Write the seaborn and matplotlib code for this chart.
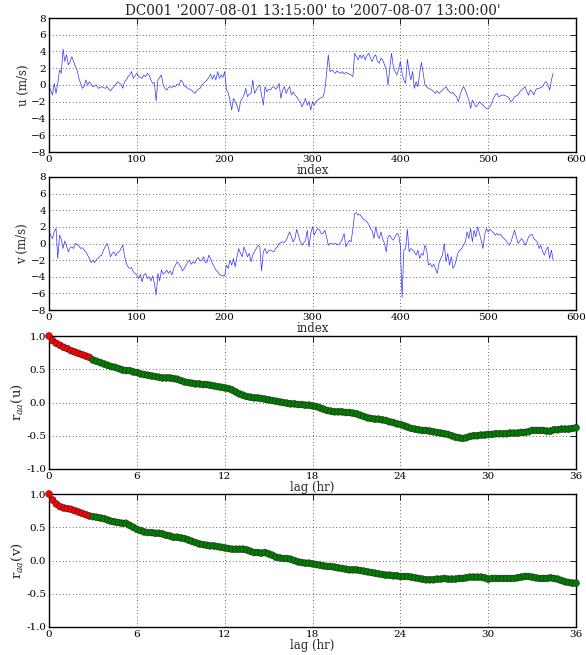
import numpy as np
import pandas as pd
import matplotlib
matplotlib.use("Agg")
import matplotlib.pyplot as plt
import seaborn as sns

title = "DC001 '2007-08-01 13:15:00' to '2007-08-07 13:00:00'"

# u (m/s) sampled every 2nd index (0..574)
u_vals = [
    -0.2, -0.6, -1.2, 0.2, -1.0, 0.2, 1.8, 1.4, 4.3, 2.8,
    3.6, 2.4, 2.8, 3.4, 2.8, 2.2, 1.8, 0.8, 0.2, -0.4,
    -0.2, 0.6, 0.0, 0.4, 0.1, -0.2, -0.1, 0.0, -0.4, -0.3,
    -0.2, -0.3, -0.4, -0.2, -0.5, -0.7, -0.4, -0.2, 0.1, 0.4,
    0.2, 0.1, -0.4, 0.4, 0.6, 1.0, 1.2, 1.6, 0.8, 1.1,
    1.4, 1.0, 0.9, 0.8, 1.2, 1.0, 1.4, 1.2, 0.6, 0.2,
    0.3, -1.9, 0.6, 0.9, 1.2, 0.0, -0.4, -0.6, -0.3, -0.2,
    -0.3, -0.1, -0.2, 0.1, 0.0, 0.6, 0.4, -0.1, -0.2, -0.4,
    -0.5, -0.6, -0.8, -1.0, -0.7, -0.5, -0.4, 0.0, 0.2, 0.4,
    0.6, 0.9, 1.3, 0.7, 1.2, 0.6, 1.6, 0.8, 1.2, 0.9,
    1.6, -0.6, -0.9, -1.8, -3.0, -1.6, -2.0, -2.4, -3.2, -2.0,
    -1.6, -1.2, -0.4, -1.4, -1.1, -1.0, 0.6, -1.0, -0.6, -0.2,
    0.0, -1.2, -2.4, -0.2, -0.8, -0.5, -0.6, -0.3, -0.2, -0.5,
    -0.3, 0.2, -1.6, -0.6, -0.2, -1.0, -0.5, -0.2, -1.2, -0.8,
    -1.2, -1.4, -1.8, -2.0, -2.6, -2.2, -1.6, -2.4, -2.0, -3.0,
    -2.0, -2.4, -2.0, -1.8, -1.6, -1.5, -1.4, -0.6, 1.4, 3.6,
    1.6, 1.8, 1.6, 1.4, 1.7, 1.5, 1.4, 1.6, 1.3, 1.5,
    1.4, 1.3, 1.2, 1.0, 3.8, 3.4, 3.0, 3.6, 3.2, 3.6,
    3.0, 3.5, 3.8, 3.2, 2.8, 3.4, 3.6, 2.8, 2.6, 3.2,
    3.0, 2.4, 1.8, 0.0, 2.0, 3.8, 2.2, 1.6, 1.2, 1.8,
    2.8, 1.4, 0.6, 0.2, 3.1, 1.6, 0.6, 1.6, -0.4, 0.4,
    -0.2, 1.4, 2.7, 1.4, 0.0, -0.2, -0.4, -0.5, -0.6, -0.8,
    -1.0, -0.7, -1.0, -0.8, -0.6, -0.4, -0.2, -0.6, -0.8, -1.0,
    -0.9, -1.2, -1.4, -2.0, -1.2, -0.6, -0.2, -0.6, -1.2, -1.8,
    -2.8, -1.8, -2.2, -2.6, -2.4, -2.0, -2.2, -2.4, -2.6, -2.8,
    -2.8, -2.6, -2.2, -1.6, -1.2, -1.0, -1.4, -1.3, -1.2, -1.2,
    -1.3, -1.4, -1.6, -2.0, -1.8, -1.4, -1.3, -1.2, -0.8, -0.6,
    -0.4, -0.2, -0.8, -1.2, -0.6, -0.8, -1.2, -0.6, -0.4, -0.4,
    -0.3, -0.2, 0.2, 0.4, 0.0, -0.6, 0.6, 1.4,
]

# v (m/s) sampled every 2nd index (0..574)
v_vals = [
    1.4, 1.0, 0.6, 1.5, 1.8, -1.8, 1.0, 0.5, -0.6, 0.3,
    -0.3, -1.0, -0.5, -0.4, -0.6, 0.0, -0.1, -0.3, -0.6, -0.5,
    -0.8, -1.0, -1.4, -1.8, -2.3, -2.0, -2.3, -1.9, -1.8, -1.5,
    -1.4, -0.8, -0.4, 0.0, -0.6, -1.6, -1.2, -1.0, -1.5, -1.1,
    -1.0, -0.6, -0.2, -1.5, -2.4, -2.8, -3.0, -2.9, -3.4, -3.6,
    -3.8, -4.2, -3.7, -4.6, -3.8, -3.6, -4.2, -4.0, -4.5, -3.9,
    -4.8, -6.2, -3.6, -4.5, -3.2, -3.7, -3.5, -3.2, -3.6, -3.3,
    -3.8, -3.0, -2.6, -2.2, -2.5, -2.8, -3.3, -3.0, -2.6, -2.2,
    -2.0, -2.5, -2.2, -2.4, -1.9, -1.7, -2.1, -2.0, -1.6, -2.3,
    -2.2, -1.4, -1.8, -2.4, -2.8, -3.2, -3.4, -3.7, -3.9, -3.8,
    -3.9, -2.6, -3.0, -2.0, -2.6, -1.8, -2.8, -1.6, -0.6, -1.2,
    -1.6, -0.4, -1.0, -1.6, -1.2, -2.2, -1.4, -1.0, -0.6, -0.2,
    -0.4, -3.3, -1.0, -0.6, -1.2, -0.9, -0.8, -0.9, -1.0, -0.6,
    -0.4, 0.0, 0.1, 0.2, 0.1, 0.4, 0.9, 1.4, 0.8, 0.2,
    0.6, 1.7, 1.0, 0.3, -0.2, 0.1, 0.3, 1.6, -0.4, 1.2,
    2.0, 1.0, 1.5, 1.8, 1.6, 1.2, 1.2, 1.6, 0.8, -0.2,
    0.0, 0.0, -0.1, 0.0, -0.1, -0.1, 0.1, 0.6, 1.2, -0.4,
    0.0, 0.4, 0.2, 1.8, 3.6, 3.7, 3.4, 3.5, 3.2, 2.9,
    2.8, 2.6, 2.3, 1.8, 1.5, 0.6, 2.0, 1.0, 0.6, 1.4,
    0.5, 0.0, -1.0, 0.8, 1.0, 0.6, 0.4, 0.8, 1.2, 1.1,
    -0.2, -6.5, -0.8, -0.6, 1.7, -1.0, -0.6, -0.8, -1.0, -1.4,
    -0.8, -1.8, -1.2, -1.4, -0.2, -0.8, -2.6, -2.4, -2.8, -2.5,
    -3.0, -3.6, -2.4, -1.8, -1.4, 0.0, -2.2, -1.2, -2.6, -1.6,
    -3.0, -2.6, -1.8, -1.0, -0.8, -0.6, -0.2, 0.2, 1.4, 0.6,
    1.8, 0.2, 1.6, 0.8, 2.0, 1.2, 0.4, -0.6, 1.0, 1.8,
    1.4, 1.7, 1.5, 1.3, 1.0, 1.2, 1.0, 1.1, 0.8, 0.6,
    0.4, 0.1, -0.2, 0.2, 0.9, 1.6, 0.8, 0.0, 0.3, 0.6,
    0.3, -0.2, 0.2, 0.8, 1.0, 1.1, 0.6, 0.4, 0.2, -0.6,
    -0.2, -1.0, -1.4, -0.8, -0.4, -1.8, -0.8, -2.0,
]

# autocorrelation, lag every 0.25 hr (0..36)
acf_u = [
    1.00, 0.93, 0.89, 0.86, 0.83, 0.81, 0.78, 0.76, 0.74, 0.72, 0.70, 0.68,
    0.64, 0.62, 0.60, 0.58, 0.56, 0.54, 0.53, 0.51, 0.49, 0.48, 0.48, 0.46,
    0.45, 0.43, 0.42, 0.41, 0.40, 0.39, 0.38, 0.37, 0.37, 0.37, 0.36, 0.35,
    0.33, 0.31, 0.30, 0.29, 0.28, 0.28, 0.27, 0.27, 0.26, 0.25, 0.24, 0.23,
    0.22, 0.21, 0.19, 0.16, 0.13, 0.11, 0.09, 0.08, 0.07, 0.07, 0.06, 0.05,
    0.04, 0.03, 0.02, 0.01, 0.00, -0.01, -0.02, -0.02, -0.03, -0.03, -0.04, -0.04,
    -0.05, -0.06, -0.08, -0.10, -0.12, -0.13, -0.14, -0.14, -0.14, -0.15, -0.15, -0.16,
    -0.17, -0.19, -0.21, -0.23, -0.24, -0.25, -0.25, -0.26, -0.27, -0.29, -0.30, -0.32,
    -0.33, -0.35, -0.37, -0.39, -0.40, -0.41, -0.42, -0.42, -0.43, -0.44, -0.45, -0.46,
    -0.47, -0.48, -0.50, -0.52, -0.53, -0.54, -0.53, -0.51, -0.50, -0.50, -0.49, -0.49,
    -0.48, -0.48, -0.47, -0.47, -0.47, -0.47, -0.46, -0.46, -0.46, -0.45, -0.45, -0.44,
    -0.42, -0.42, -0.42, -0.42, -0.43, -0.43, -0.41, -0.41, -0.40, -0.40, -0.40, -0.39,
    -0.38,
]
acf_v = [
    1.00, 0.91, 0.85, 0.81, 0.79, 0.78, 0.77, 0.75, 0.73, 0.71, 0.69, 0.67,
    0.66, 0.65, 0.64, 0.63, 0.61, 0.59, 0.58, 0.57, 0.56, 0.56, 0.53, 0.50,
    0.47, 0.45, 0.43, 0.42, 0.42, 0.41, 0.41, 0.40, 0.38, 0.37, 0.35, 0.35,
    0.34, 0.33, 0.31, 0.29, 0.27, 0.25, 0.24, 0.23, 0.22, 0.22, 0.21, 0.20,
    0.19, 0.18, 0.17, 0.17, 0.17, 0.17, 0.16, 0.14, 0.12, 0.12, 0.11, 0.12,
    0.10, 0.08, 0.05, 0.04, 0.03, 0.03, 0.02, 0.00, -0.02, -0.03, -0.04, -0.04,
    -0.05, -0.06, -0.07, -0.08, -0.09, -0.09, -0.10, -0.11, -0.12, -0.13, -0.14, -0.14,
    -0.14, -0.15, -0.16, -0.17, -0.18, -0.19, -0.20, -0.21, -0.22, -0.22, -0.23, -0.23,
    -0.24, -0.24, -0.24, -0.25, -0.26, -0.27, -0.28, -0.29, -0.29, -0.29, -0.28, -0.28,
    -0.27, -0.28, -0.28, -0.28, -0.27, -0.27, -0.26, -0.25, -0.25, -0.25, -0.25, -0.26,
    -0.28, -0.27, -0.27, -0.27, -0.27, -0.27, -0.27, -0.27, -0.26, -0.25, -0.24, -0.24,
    -0.25, -0.26, -0.27, -0.27, -0.27, -0.26, -0.27, -0.28, -0.30, -0.32, -0.33, -0.34,
    -0.34,
]
index_step = 2
lag_step = 0.25
red_count = 12  # lags below 3 hr shown in red

sns.set_style("white")
plt.rcParams.update({
    "font.family": ["DejaVu Serif"],
    "mathtext.fontset": "dejavuserif",
    "xtick.direction": "in",
    "ytick.direction": "in",
    "xtick.top": True,
    "ytick.right": True,
    "xtick.major.size": 4,
    "ytick.major.size": 4,
    "xtick.major.width": 0.6,
    "ytick.major.width": 0.6,
    "xtick.color": "black",
    "ytick.color": "black",
    "axes.edgecolor": "black",
    "axes.linewidth": 1.0,
})

idx = np.arange(len(u_vals)) * index_step
df_uv = pd.DataFrame({"index": idx, "u": u_vals, "v": v_vals})
lag = np.arange(len(acf_u)) * lag_step
df_acf = pd.DataFrame({"lag": lag, "ru": acf_u, "rv": acf_v})
df_acf["grp"] = np.where(np.arange(len(lag)) < red_count, "early", "late")

fig = plt.figure(figsize=(5.86, 6.55), dpi=100)
W, H = 586, 655
def pos(left, top, right, bottom):
    return [left / W, 1 - bottom / H, (right - left) / W, (bottom - top) / H]

ax1 = fig.add_axes(pos(49, 18, 576, 152))
ax2 = fig.add_axes(pos(49, 177, 576, 310))
ax3 = fig.add_axes(pos(49, 336, 576, 469))
ax4 = fig.add_axes(pos(49, 494, 576, 627))

tick_fs = 7.5
lab_fs = 8.5
grid_kw = dict(color="black", linestyle=(0, (1, 3)), linewidth=0.6, alpha=0.8)

for ax, col, lab in [(ax1, "u", "u (m/s)"), (ax2, "v", "v (m/s)")]:
    sns.lineplot(data=df_uv, x="index", y=col, ax=ax, color="#3333ff", lw=0.5)
    ax.set_xlim(0, 600)
    ax.set_ylim(-8, 8)
    ax.set_xticks(range(0, 601, 100))
    ax.set_yticks(range(-8, 9, 2))
    ax.set_xlabel("index", fontsize=lab_fs, labelpad=0)
    ax.set_ylabel(lab, fontsize=lab_fs, labelpad=1)

palette = {"early": "#ff0000", "late": "#008000"}
for ax, col, lab in [(ax3, "ru", r"$\mathrm{r}_{aa}(\mathrm{u})$"),
                     (ax4, "rv", r"$\mathrm{r}_{aa}(\mathrm{v})$")]:
    sns.scatterplot(data=df_acf, x="lag", y=col, hue="grp", palette=palette,
                    ax=ax, s=24, edgecolor="#202020", linewidth=0.4, legend=False,
                    zorder=3, clip_on=False)
    ax.set_xlim(0, 36)
    ax.set_ylim(-1, 1)
    ax.set_xticks(range(0, 37, 6))
    ax.set_yticks([-1.0, -0.5, 0.0, 0.5, 1.0])
    ax.set_yticklabels(["-1.0", "-0.5", "0.0", "0.5", "1.0"])
    ax.set_xlabel("lag (hr)", fontsize=lab_fs, labelpad=0)
    ax.set_ylabel(lab, fontsize=9.5, labelpad=1)

for ax in (ax1, ax2, ax3, ax4):
    ax.grid(True, **grid_kw)
    ax.set_axisbelow(True)
    ax.tick_params(labelsize=tick_fs, pad=2)
    for sp in ax.spines.values():
        sp.set_visible(True)
        sp.set_color("black")
        sp.set_linewidth(1.0)
    ax.set_facecolor("white")

ax1.set_title(title, fontsize=9.8, pad=2)

fig.savefig("out.png", dpi=100, facecolor="white")
